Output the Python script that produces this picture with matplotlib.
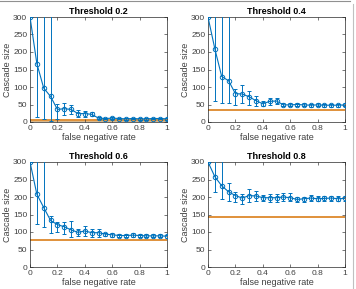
import matplotlib
matplotlib.use("Agg")
import matplotlib.pyplot as plt
from matplotlib.lines import Line2D
import numpy as np

plt.rcParams['font.family'] = ['Liberation Sans', 'DejaVu Sans']

fnr = [0, 0.05, 0.1, 0.15, 0.2, 0.25, 0.3, 0.35, 0.4, 0.45, 0.5,
       0.55, 0.6, 0.65, 0.7, 0.75, 0.8, 0.85, 0.9, 0.95, 1.0]

thresholds = ["0.2", "0.4", "0.6", "0.8"]

# mean cascade size per threshold
mean_02 = [300, 167, 97, 73, 36, 38, 36, 24, 24, 22, 11, 10, 11, 10, 9, 10, 9, 9, 10, 10, 9]
mean_04 = [300, 209, 130, 118, 81, 80, 72, 61, 52, 59, 60, 49, 49, 50, 49, 48, 49, 48, 48, 48, 49]
mean_06 = [300, 208, 170, 133, 121, 115, 106, 99, 103, 98, 98, 94, 92, 90, 90, 91, 90, 89, 89, 89, 88]
mean_08 = [300, 258, 232, 215, 204, 197, 204, 203, 198, 198, 198, 200, 198, 193, 195, 197, 195, 196, 197, 195, 196]

# error bar bottoms and tops
low_02 = [300, 15, 10, 3, 8, 20, 22, 14, 15, 16, 8, 8, 8, 8, 7, 8, 7, 7, 8, 8, 7]
high_02 = [300, 400, 400, 400, 52, 53, 48, 34, 32, 30, 14, 12, 14, 12, 11, 12, 11, 11, 12, 12, 11]
low_04 = [300, 60, 55, 55, 50, 55, 50, 45, 45, 50, 52, 45, 45, 45, 45, 44, 45, 44, 44, 44, 45]
high_04 = [300, 400, 400, 400, 95, 105, 90, 75, 60, 68, 68, 54, 54, 55, 54, 52, 54, 52, 52, 52, 53]
low_06 = [300, 122, 115, 97, 100, 95, 85, 90, 90, 85, 85, 88, 86, 86, 86, 86, 86, 85, 85, 85, 84]
high_06 = [300, 400, 400, 145, 130, 130, 132, 110, 118, 108, 110, 98, 98, 94, 94, 96, 94, 93, 93, 93, 92]
low_08 = [300, 215, 195, 190, 185, 180, 185, 190, 190, 185, 185, 190, 190, 185, 185, 190, 188, 189, 190, 188, 190]
high_08 = [300, 400, 400, 240, 215, 210, 222, 218, 205, 208, 208, 212, 212, 200, 200, 205, 202, 203, 204, 202, 202]

# baseline (no detection) cascade size
baseline = [5, 35, 77, 143]

means = [mean_02, mean_04, mean_06, mean_08]
lows = [low_02, low_04, low_06, low_08]
highs = [high_02, high_04, high_06, high_08]

blue = '#0072BD'
orange = '#E0913A'
txt = '#404040'

fig = plt.figure(figsize=(3.56, 2.89), dpi=100)
boxes = [[30/356, 1-122/289, 137/356, 105/289],
         [208/356, 1-122/289, 137/356, 105/289],
         [30/356, 1-267/289, 137/356, 105/289],
         [208/356, 1-267/289, 137/356, 105/289]]

for i in range(4):
    ax = fig.add_axes(boxes[i])
    m = np.array(means[i])
    lo = m - np.array(lows[i])
    hi = np.array(highs[i]) - m
    if i == 0:
        ax.axhspan(0, 7, color='#D8B88C', zorder=1)
    ax.axhline(baseline[i], color=orange, lw=1.4, zorder=1)
    ax.errorbar(fnr, m, yerr=[lo, hi], color=blue, lw=0.8, marker='o',
                markersize=3.2, markerfacecolor='none', markeredgewidth=0.7,
                capsize=1.2, elinewidth=0.7, capthick=0.6, zorder=3)
    ax.set_xlim(0, 1)
    ax.set_ylim(0, 300)
    ax.set_xticks([0, 0.2, 0.4, 0.6, 0.8, 1])
    ax.set_xticklabels(['0', '0.2', '0.4', '0.6', '0.8', '1'])
    ax.set_yticks([0, 50, 100, 150, 200, 250, 300])
    ax.tick_params(labelsize=6, length=2, width=0.5, direction='in', pad=2,
                   colors=txt, top=True, right=True)
    for s in ax.spines.values():
        s.set_linewidth(0.5)
        s.set_color('#262626')
    ax.set_title('Threshold ' + thresholds[i], fontsize=6.5, fontweight='bold', pad=2)
    ax.set_xlabel('false negative rate', fontsize=6.5, labelpad=1, color=txt)
    ax.set_ylabel('Cascade size', fontsize=6.5, labelpad=1, color=txt)

# thin frame from the source page
fig.add_artist(Line2D([0, 350/356], [1-1/289, 1-1/289], color='#909090', lw=0.8))
fig.add_artist(Line2D([353/356, 353/356], [0, 1-4/289], color='#c0c0c0', lw=0.8))

fig.savefig('out.png', dpi=100)
